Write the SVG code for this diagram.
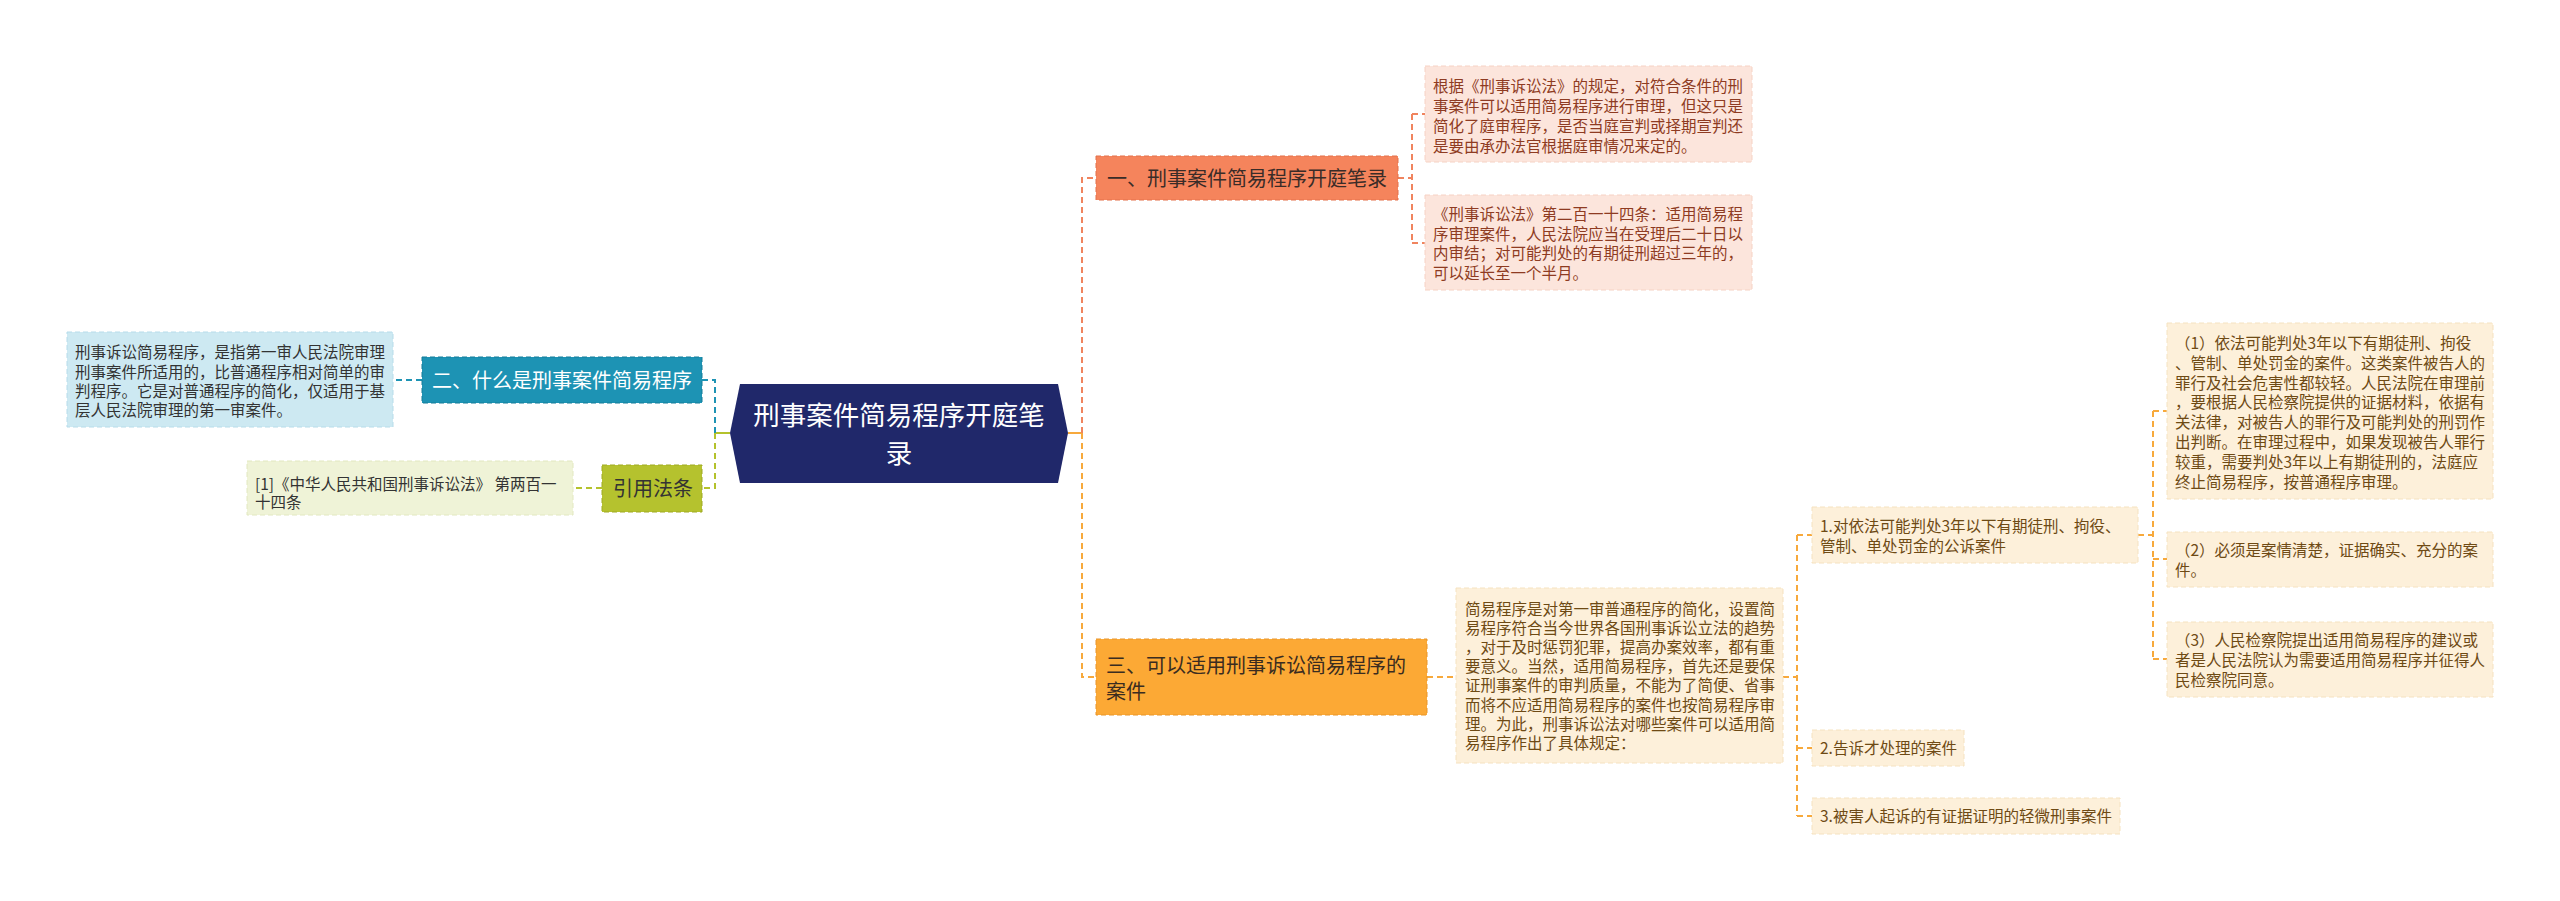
<svg xmlns="http://www.w3.org/2000/svg" width="2560" height="901" viewBox="0 0 2560 901">
<style>
text{font-family:"Noto Sans CJK SC","Noto Sans",sans-serif;}
.t{font-size:15.5px;}
.big{font-size:20px;}
.c{fill:none;stroke-width:2;stroke-dasharray:6 4;}
.coral{stroke:#f0845e;}
.orange{stroke:#f7a93c;}
.blue{stroke:#1d93b4;}
.green{stroke:#b4c22c;}
</style>
<rect width="2560" height="901" fill="#ffffff"/>
<g id="connectors">
<path d="M1068,433 H1082" stroke="#f7a93c" stroke-width="2" fill="none"/>
<path class="c coral" d="M1082,433 V178 H1096"/>
<path class="c orange" d="M1082,433 V677 H1096"/>
<path class="c coral" d="M1398,178 H1412 M1412,114 V243 M1412,114 H1425 M1412,243 H1425"/>
<path class="c orange" d="M1427,677 H1456"/>
<path class="c orange" d="M1783,677 H1797 M1797,535 V816 M1797,535 H1812 M1797,748 H1812 M1797,816 H1812"/>
<path class="c orange" d="M2138,535 H2153 M2153,411 V659 M2153,411 H2167 M2153,559 H2167 M2153,659 H2167"/>
<path d="M730,433 H715" stroke="#b4c22c" stroke-width="2" fill="none"/>
<path class="c blue" d="M715,433 V380 H702"/>
<path class="c green" d="M715,433 V488 H702"/>
<path class="c blue" d="M422,380 H393"/>
<path class="c green" d="M602,488 H573"/>
</g>
<g id="root">
<polygon points="730,433 740,384 1058,384 1068,433 1058,483 740,483" fill="#20286a"/>
<text x="899" y="425" font-size="26.5" fill="#ffffff" text-anchor="middle">刑事案件简易程序开庭笔</text>
<text x="899" y="463" font-size="26.5" fill="#ffffff" text-anchor="middle">录</text>
</g>
<g id="n1">
<rect x="1096" y="156" width="302" height="44" fill="#f5845c" stroke="#e3704a" stroke-dasharray="5 3"/>
<text class="big" x="1107" y="186" fill="#3a2c28">一、刑事案件简易程序开庭笔录</text>
</g>
<g id="n1a">
<rect x="1425" y="66" width="327" height="96" fill="#fce5dc" stroke="#f6d2c4" stroke-dasharray="5 3"/>
<g class="t" fill="#8e3b22">
<text x="1433" y="92">根据《刑事诉讼法》的规定，对符合条件的刑</text>
<text x="1433" y="112">事案件可以适用简易程序进行审理，但这只是</text>
<text x="1433" y="132">简化了庭审程序，是否当庭宣判或择期宣判还</text>
<text x="1433" y="152">是要由承办法官根据庭审情况来定的。</text>
</g>
</g>
<g id="n1b">
<rect x="1425" y="195" width="327" height="95" fill="#fce5dc" stroke="#f6d2c4" stroke-dasharray="5 3"/>
<g class="t" fill="#8e3b22">
<text x="1433" y="220">《刑事诉讼法》第二百一十四条：适用简易程</text>
<text x="1433" y="240">序审理案件，人民法院应当在受理后二十日以</text>
<text x="1433" y="259">内审结；对可能判处的有期徒刑超过三年的，</text>
<text x="1433" y="279">可以延长至一个半月。</text>
</g>
</g>
<g id="n2">
<rect x="422" y="357" width="280" height="46" fill="#1d93b4" stroke="#147c99" stroke-dasharray="5 3"/>
<text class="big" x="432" y="388" fill="#ffffff">二、什么是刑事案件简易程序</text>
</g>
<g id="n2a">
<rect x="67" y="332" width="326" height="95" fill="#cde9f2" stroke="#b7dcea" stroke-dasharray="5 3"/>
<g class="t" fill="#333333">
<text x="75" y="358">刑事诉讼简易程序，是指第一审人民法院审理</text>
<text x="75" y="378">刑事案件所适用的，比普通程序相对简单的审</text>
<text x="75" y="397">判程序。它是对普通程序的简化，仅适用于基</text>
<text x="75" y="416">层人民法院审理的第一审案件。</text>
</g>
</g>
<g id="ref">
<rect x="602" y="465" width="100" height="47" fill="#b5c22e" stroke="#9faa22" stroke-dasharray="5 3"/>
<text class="big" x="613" y="496" fill="#333333">引用法条</text>
</g>
<g id="refa">
<rect x="247" y="461" width="326" height="54" fill="#eff3d7" stroke="#e2e8c0" stroke-dasharray="5 3"/>
<g class="t" fill="#333333">
<text x="255" y="490">[1]《中华人民共和国刑事诉讼法》 第两百一</text>
<text x="255" y="508">十四条</text>
</g>
</g>
<g id="n3">
<rect x="1096" y="639" width="331" height="76" fill="#fca935" stroke="#e8952a" stroke-dasharray="5 3"/>
<text class="big" x="1106" y="673" fill="#3a2c20">三、可以适用刑事诉讼简易程序的</text>
<text class="big" x="1106" y="699" fill="#3a2c20">案件</text>
</g>
<g id="n3a">
<rect x="1456" y="588" width="327" height="175" fill="#fdf0da" stroke="#f5e2c0" stroke-dasharray="5 3"/>
<g class="t" fill="#6e4a14">
<text x="1465" y="615">简易程序是对第一审普通程序的简化，设置简</text>
<text x="1465" y="634">易程序符合当今世界各国刑事诉讼立法的趋势</text>
<text x="1465" y="653">，对于及时惩罚犯罪，提高办案效率，都有重</text>
<text x="1465" y="672">要意义。当然，适用简易程序，首先还是要保</text>
<text x="1465" y="691">证刑事案件的审判质量，不能为了简便、省事</text>
<text x="1465" y="711">而将不应适用简易程序的案件也按简易程序审</text>
<text x="1465" y="730">理。为此，刑事诉讼法对哪些案件可以适用简</text>
<text x="1465" y="749">易程序作出了具体规定：</text>
</g>
</g>
<g id="c1">
<rect x="1812" y="507" width="326" height="56" fill="#fdf0da" stroke="#f5e2c0" stroke-dasharray="5 3"/>
<g class="t" fill="#6e4a14">
<text x="1820" y="532">1.对依法可能判处3年以下有期徒刑、拘役、</text>
<text x="1820" y="552">管制、单处罚金的公诉案件</text>
</g>
</g>
<g id="c2">
<rect x="1812" y="730" width="152" height="36" fill="#fdf0da" stroke="#f5e2c0" stroke-dasharray="5 3"/>
<text class="t" x="1820" y="754" fill="#6e4a14">2.告诉才处理的案件</text>
</g>
<g id="c3">
<rect x="1812" y="798" width="308" height="36" fill="#fdf0da" stroke="#f5e2c0" stroke-dasharray="5 3"/>
<text class="t" x="1820" y="822" fill="#6e4a14">3.被害人起诉的有证据证明的轻微刑事案件</text>
</g>
<g id="d1">
<rect x="2167" y="323" width="326" height="176" fill="#fdf0da" stroke="#f5e2c0" stroke-dasharray="5 3"/>
<g class="t" fill="#6e4a14">
<text x="2175" y="349">（1）依法可能判处3年以下有期徒刑、拘役</text>
<text x="2175" y="369">、管制、单处罚金的案件。这类案件被告人的</text>
<text x="2175" y="389">罪行及社会危害性都较轻。人民法院在审理前</text>
<text x="2175" y="408">，要根据人民检察院提供的证据材料，依据有</text>
<text x="2175" y="428">关法律，对被告人的罪行及可能判处的刑罚作</text>
<text x="2175" y="448">出判断。在审理过程中，如果发现被告人罪行</text>
<text x="2175" y="468">较重，需要判处3年以上有期徒刑的，法庭应</text>
<text x="2175" y="488">终止简易程序，按普通程序审理。</text>
</g>
</g>
<g id="d2">
<rect x="2167" y="532" width="326" height="55" fill="#fdf0da" stroke="#f5e2c0" stroke-dasharray="5 3"/>
<g class="t" fill="#6e4a14">
<text x="2175" y="556">（2）必须是案情清楚，证据确实、充分的案</text>
<text x="2175" y="576">件。</text>
</g>
</g>
<g id="d3">
<rect x="2167" y="622" width="326" height="75" fill="#fdf0da" stroke="#f5e2c0" stroke-dasharray="5 3"/>
<g class="t" fill="#6e4a14">
<text x="2175" y="646">（3）人民检察院提出适用简易程序的建议或</text>
<text x="2175" y="666">者是人民法院认为需要适用简易程序并征得人</text>
<text x="2175" y="686">民检察院同意。</text>
</g>
</g>
</svg>
